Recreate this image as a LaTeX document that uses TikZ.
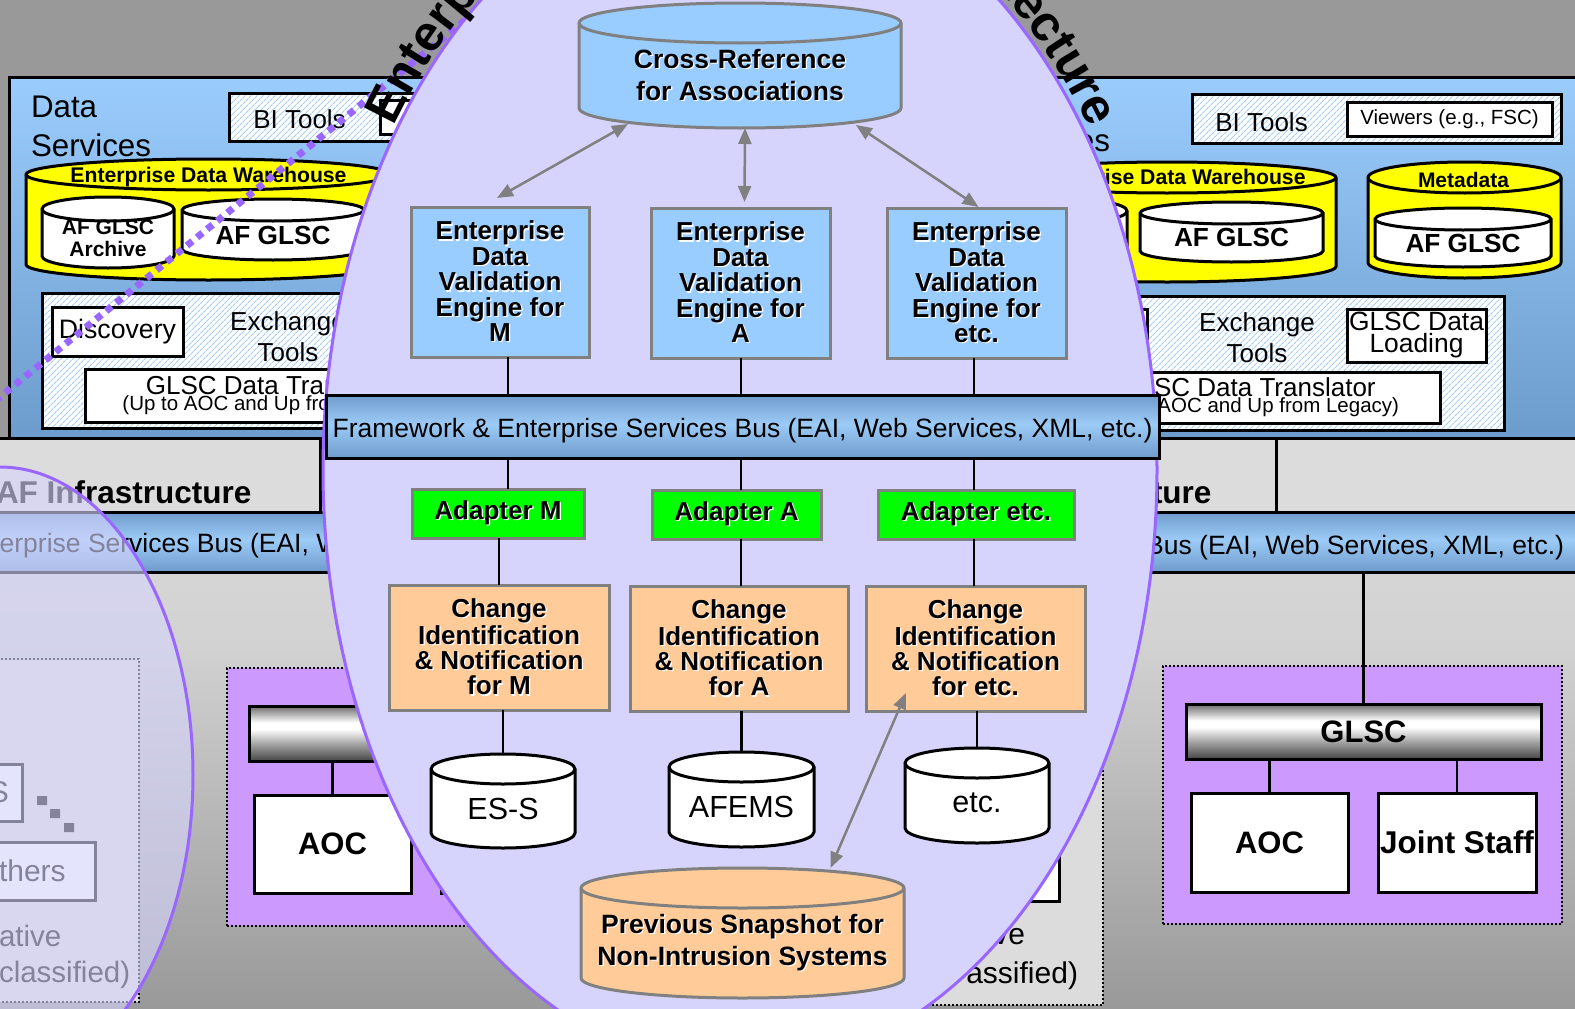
\documentclass[tikz,border=0pt]{standalone}
\usepackage{fontspec}
\setmainfont{Liberation Sans}
\usetikzlibrary{arrows.meta,patterns.meta,decorations.text,calc}
\definecolor{bgGray}{HTML}{999999}
\definecolor{bgLight}{HTML}{DCDCDC}
\definecolor{bgMid}{HTML}{D2D2D2}
\definecolor{dsTop}{HTML}{9ACCFD}
\definecolor{dsBot}{HTML}{6C9CCB}
\definecolor{hatchBlue}{HTML}{A6CEF4}
\definecolor{edwYellow}{HTML}{FFFF00}
\definecolor{lav}{HTML}{D6D4FC}
\definecolor{lensPurple}{HTML}{9966FF}
\definecolor{boxPurple}{HTML}{CC99FF}
\definecolor{boxBlue}{HTML}{99CCFF}
\definecolor{adGreen}{HTML}{00FF00}
\definecolor{chOrange}{HTML}{FFCC99}
\definecolor{lineGray}{HTML}{808080}
\definecolor{esbA}{HTML}{6E9BCB}
\definecolor{esbB}{HTML}{9DCBF7}
\definecolor{mTop}{HTML}{6A6A6A}
\definecolor{mMid}{HTML}{A0A0A0}
\definecolor{mBot}{HTML}{454545}
\pgfdeclareverticalshading{esbshade}{100bp}{color(0bp)=(esbA); color(25bp)=(esbA); color(52bp)=(esbB); color(75bp)=(esbA); color(100bp)=(esbA)}
\pgfdeclareverticalshading{metalshade}{100bp}{color(0bp)=(mBot); color(25bp)=(mBot); color(40bp)=(mMid); color(54bp)=(white); color(60bp)=(white); color(75bp)=(mTop); color(100bp)=(mTop)}
\pgfdeclareverticalshading{bgshade}{100bp}{color(0bp)=(bgGray); color(25bp)=(bgGray); color(57bp)=(bgMid); color(75bp)=(bgLight); color(100bp)=(bgLight)}
\newcommand\fs[2]{\fontsize{#1}{#2}\selectfont}
\newcommand\sh[1]{\leavevmode\rlap{\hspace{1.3pt}\raisebox{-1.3pt}{\textcolor{white}{#1}}}#1}
\newcommand\bx[7]{\node[#1, minimum width={((#4)-(#2))*1pt}, minimum height={((#5)-(#3))*1pt}] (#6) at ({((#2)+(#4))/2},{((#3)+(#5))/2}) {#7};}
\newcommand\drum[9]{%
  \path[#7] (#2,#4+#6) -- (#2,#5-#6) arc[start angle=180,end angle=0,x radius={((#3)-(#2))/2},y radius=#6] -- (#3,#4+#6) arc[start angle=0,end angle=-180,x radius={((#3)-(#2))/2},y radius=#6] -- cycle;
  \path[#7,fill=none] (#2,#4+#6) arc[start angle=180,end angle=0,x radius={((#3)-(#2))/2},y radius=#6];
  \node[align=center, font=#8, minimum width={((#3)-(#2))*1pt}, minimum height={((#5)-(#4)-(#6))*1pt}] (#1) at ({((#2)+(#3))/2},{((#4)+(#6)+(#5))/2}) {#9};}
\tikzset{
  every node/.style={inner sep=0pt, outer sep=0pt},
  wbox/.style={draw=black, line width=3pt, fill=white, align=center},
  hbox/.style={draw=black, line width=3pt, preaction={fill=white}, pattern={Lines[angle=45,distance=4pt,line width=1.2pt]}, pattern color=hatchBlue},
  dsband/.style={draw=black, line width=3pt, top color=dsTop, bottom color=dsBot},
  infra/.style={draw=black, line width=3pt, fill=bgLight},
  esbbar/.style={draw=black, line width=3pt, shade, shading=esbshade},
  metalbar/.style={draw=black, line width=3pt, shade, shading=metalshade, align=center},
  pbox/.style={draw=black, line width=2pt, dotted, fill=boxPurple},
  gbox/.style={draw=black, line width=2pt, dotted, fill=bgLight},
  yel/.style={draw=black, line width=3pt, fill=edwYellow},
  wdrum/.style={draw=black, line width=3pt, fill=white},
  bdrum/.style={draw=lineGray, line width=3pt, fill=boxBlue},
  odrum/.style={draw=lineGray, line width=3pt, fill=chOrange},
  cbox/.style={draw=lineGray, line width=3pt, align=center},
  edvbox/.style={cbox, fill=boxBlue, font=\fs{26}{25.4}\bfseries},
  adbox/.style={cbox, fill=adGreen, font=\fs{26}{26}\bfseries},
  chbox/.style={cbox, fill=chOrange, font=\fs{26}{25.3}\bfseries},
  link/.style={draw=black, line width=2.5pt},
  garrow/.style={draw=lineGray, line width=2.5pt, {Triangle[length=16pt,width=13pt]}-{Triangle[length=16pt,width=13pt]}},
  dotline/.style={draw=lensPurple, line width=7pt, dash pattern=on 7pt off 6pt},
  arctext/.style={decorate, decoration={text along path, text={|\fs{50}{50}\bfseries|#1}}},
}
\begin{document}
\begin{tikzpicture}[x=1pt,y=-1pt]
\useasboundingbox (0,0) rectangle (1575,1009);
\clip (0,0) rectangle (1575,1009);
\fill[bgGray] (0,0) rectangle (1575,1009);
\shade[shading=bgshade] (0,437) rectangle (1575,1009);

% ---------- Data Services band
\bx{dsband}{9}{77}{1600}{438}{dsbox}{}
% left
\node[anchor=west, align=left, font=\fs{31.3}{39}] (dsTxtL) at (31,126.5) {Data\\Services};
\bx{hbox}{229}{93}{720}{141}{biL}{}
\bx{wbox}{380}{100}{600}{134}{viewL}{}
\node[font=\fs{26}{30}] (biTxtL) at (299.5,119.5) {BI Tools};
\drum{edwL}{26}{391}{159}{280}{15.5}{yel}{\fs{20}{20}}{}
\node[font=\fs{21.2}{24}\bfseries] (edwTxtL) at (208.5,177.5) {Enterprise Data Warehouse};
\drum{archL}{42}{174}{197}{268}{12}{wdrum}{\fs{21}{22}\bfseries}{AF GLSC\\Archive}
\drum{glscL}{182}{364}{199}{260}{11}{wdrum}{\fs{26.2}{28}\bfseries}{AF GLSC}
\bx{hbox}{42}{293}{720}{428}{exL}{}
\bx{wbox,font=\fs{26.7}{30}}{52}{307}{183}{356}{discL}{Discovery}
\node[align=center, font=\fs{26}{31}] (extL) at (288,337) {Exchange\\Tools};
\bx{wbox}{85}{369}{463}{422}{trL}{\fs{26}{22}GLSC Data Translator\\\fs{20.5}{22}(Up to AOC and Up from Legacy)}
% right
\node[anchor=west, align=left, font=\fs{31.3}{39}] (dsTxtR) at (990,121.5) {Data\\Services};
\bx{hbox}{1192}{94}{1561}{143}{biR}{}
\bx{wbox,font=\fs{20.5}{24}}{1347}{102}{1552}{136}{viewR}{Viewers (e.g., FSC)}
\node[font=\fs{26}{30}] (biTxtR) at (1261.5,122.5) {BI Tools};
\drum{edwR}{998}{1336}{162}{282}{15.5}{yel}{\fs{20}{20}}{}
\node[font=\fs{21.2}{24}\bfseries] (edwTxtR) at (1167.5,179.5) {Enterprise Data Warehouse};
\drum{archR}{1005}{1127}{199}{268}{12}{wdrum}{\fs{20}{20}}{}
\drum{glscR}{1140}{1323}{202}{262}{11}{wdrum}{\fs{26.2}{28}\bfseries}{AF GLSC}
\drum{metaR}{1368}{1561}{162}{278}{15.5}{yel}{\fs{20}{20}}{}
\node[font=\fs{21}{24}\bfseries] (metaTxt) at (1463.5,179.5) {Metadata};
\drum{glscM}{1375}{1551}{208}{267}{11}{wdrum}{\fs{26.2}{28}\bfseries}{AF GLSC}
\bx{hbox}{1000}{296}{1504}{430}{exR}{}
\bx{wbox}{1010}{309}{1147}{357}{discR}{}
\node[align=center, font=\fs{26}{31}] (extR) at (1257,338) {Exchange\\Tools};
\bx{wbox,font=\fs{26.4}{22}}{1347}{309}{1486}{362}{loadR}{GLSC Data\\Loading}
\bx{wbox}{1055}{372}{1440}{423}{trR}{\fs{26}{22}GLSC Data Translator\\\fs{20.5}{22}(Up to AOC and Up from Legacy)}

% ---------- Infrastructure band
\bx{infra}{-10}{438}{320}{512}{infL}{}
\node[anchor=west, font=\fs{31.5}{34}\bfseries] (infTxtL) at (-4,492.5) {AF Infrastructure};
\bx{infra}{880}{438}{1276}{512}{infR}{}
\bx{infra}{1276}{438}{1600}{512}{infR2}{}
\node[anchor=west, font=\fs{31.5}{34}\bfseries] (infTxtR) at (956,492.5) {AF Infrastructure};
\bx{esbbar}{-10}{512}{720}{572}{esbL}{}
\node[anchor=west, font=\fs{26.5}{30}] (esbTxtL) at (-205,546) {Framework \& Enterprise Services Bus (EAI, Web Services, XML, etc.)};
\bx{esbbar}{860}{512}{1600}{572}{esbR}{}
\node[anchor=east, font=\fs{26.5}{30}] (esbTxtR) at (1564,548) {Framework \& Enterprise Services Bus (EAI, Web Services, XML, etc.)};

% ---------- bottom left
\bx{gbox}{-10}{659}{139}{1002}{gboxL}{}
\bx{wbox}{-10}{764}{22}{821}{sBoxL}{}
\node[anchor=east, font=\fs{30}{34}] (sTxt) at (9,792) {S};
\fill[black] (37,796) rectangle (47,805) (50,809) rectangle (60,818) (64,823) rectangle (74,832);
\bx{wbox}{-10}{842}{95}{900}{othersL}{}
\node[anchor=west, font=\fs{30}{34}] (othTxt) at (-1,871) {thers};
\node[anchor=west, font=\fs{29.5}{34}] (ativeTxt) at (-1,936) {ative};
\node[anchor=west, font=\fs{29.5}{34}] (clTxtL) at (-1,975) {classified)};
\bx{pbox}{227}{668}{720}{926}{pboxL}{}
\bx{metalbar}{249}{706}{720}{761}{barL}{}
\bx{wbox,font=\fs{31}{34}\bfseries}{254}{795}{411}{893}{aocL}{AOC}
\bx{wbox}{441}{795}{650}{893}{boxL2}{}
\draw[link] (barL.south -| aocL.north) -- (aocL.north);

% ---------- bottom right
\bx{gbox}{700}{659}{1103}{1005}{gboxR}{}
\bx{wbox}{900}{795}{1059}{901}{boxR2}{}
\node[anchor=east, font=\fs{30}{34}] (veTxt) at (1025,937) {ve};
\node[anchor=east, font=\fs{30}{34}] (clTxtR) at (1078,976) {assified)};
\bx{pbox}{1163}{666}{1562}{924}{pboxR}{}
\bx{metalbar,font=\fs{31}{34}\bfseries}{1186}{704}{1541}{759}{glscBar}{GLSC}
\bx{wbox,font=\fs{31}{34}\bfseries}{1191}{793}{1348}{892}{aocR}{AOC}
\bx{wbox,font=\fs{31.5}{34}\bfseries}{1378}{793}{1536}{892}{jsR}{Joint Staff}
\draw[link] (esbR.south -| glscBar.north) -- (glscBar.north);
\draw[link] (glscBar.south -| aocR.north) -- (aocR.north);
\draw[link] (glscBar.south -| jsR.north) -- (jsR.north);

% ---------- dotted lens edge
\coordinate (dl1) at (-5,401);
\coordinate (dl2) at (495,-4);
\draw[dotline] (dl1) -- (dl2);

% ---------- left lens
\coordinate (lensL) at (0,775);
\fill[lav, fill opacity=0.62] (lensL) ellipse[x radius=193, y radius=308];
\draw[lensPurple, line width=3pt] (lensL) ellipse[x radius=193, y radius=308];

% ---------- central lens
\coordinate (lensC) at (740,470);
\fill[lav] (lensC) ellipse[x radius=417, y radius=600];
\draw[lensPurple, line width=3pt] (lensC) ellipse[x radius=417, y radius=600];

\drum{xref}{579}{901}{3}{128}{20}{bdrum}{\fs{26.5}{32}\bfseries}{\sh{Cross-Reference}\\\sh{for Associations}}
\bx{edvbox}{411}{207}{589}{357}{edvM}{\sh{Enterprise}\\\sh{Data}\\\sh{Validation}\\\sh{Engine for}\\\sh{M}}
\bx{edvbox}{651}{208}{830}{358}{edvA}{\sh{Enterprise}\\\sh{Data}\\\sh{Validation}\\\sh{Engine for}\\\sh{A}}
\bx{edvbox}{887}{208}{1066}{358}{edvE}{\sh{Enterprise}\\\sh{Data}\\\sh{Validation}\\\sh{Engine for}\\\sh{etc.}}
\bx{esbbar}{326}{395}{1159}{458}{esbC}{}
\node[font=\fs{26.5}{30}] (esbCTxt) at (742.5,431) {Framework \& Enterprise Services Bus (EAI, Web Services, XML, etc.)};
\bx{adbox}{412}{489}{584}{538}{adM}{\sh{Adapter M}}
\bx{adbox}{652}{490}{821}{539}{adA}{\sh{Adapter A}}
\bx{adbox}{878}{490}{1074}{539}{adE}{\sh{Adapter etc.}}
\bx{chbox}{389}{585}{609}{710}{chM}{\sh{Change}\\\sh{Identification}\\\sh{\& Notification}\\\sh{for M}}
\bx{chbox}{630}{586}{848}{711}{chA}{\sh{Change}\\\sh{Identification}\\\sh{\& Notification}\\\sh{for A}}
\bx{chbox}{866}{586}{1085}{711}{chE}{\sh{Change}\\\sh{Identification}\\\sh{\& Notification}\\\sh{for etc.}}
\drum{ess}{431}{575}{754}{848}{15}{wdrum}{\fs{30.5}{34}}{ES-S}
\drum{afems}{669}{814}{752}{847}{15}{wdrum}{\fs{30.5}{34}}{AFEMS}
\drum{etcdb}{905}{1049}{748}{843}{15}{wdrum}{\fs{30.5}{34}}{etc.}
\drum{snap}{581}{904}{868}{998}{20}{odrum}{\fs{26.5}{32}\bfseries}{\sh{Previous Snapshot for}\\\sh{Non-Intrusion Systems}}

\coordinate (cM) at (508,0);
\coordinate (cA) at (741,0);
\coordinate (cE) at (974,0);
\draw[link] (edvM.south -| cM) -- (esbC.north -| cM);
\draw[link] (edvA.south -| cA) -- (esbC.north -| cA);
\draw[link] (edvE.south -| cE) -- (esbC.north -| cE);
\draw[link] (esbC.south -| cM) -- (adM.north -| cM);
\draw[link] (esbC.south -| cA) -- (adA.north -| cA);
\draw[link] (esbC.south -| cE) -- (adE.north -| cE);
\draw[link] (adM.south -| chM.north) -- (chM.north);
\draw[link] (adA.south -| cA) -- (chA.north -| cA);
\draw[link] (adE.south -| cE) -- (chE.north -| cE);
\draw[link] (chM.south -| ess.north) -- ($(ess.north)+(0,-15)$);
\draw[link] (chA.south -| afems.north) -- ($(afems.north)+(0,-15)$);
\draw[link] (chE.south -| etcdb.north) -- ($(etcdb.north)+(0,-15)$);

\draw[garrow] ($(xref.south west)!0.152!(xref.south east)+(0,-4)$) -- ($(edvM.north)+(-3,-9)$);
\draw[garrow] ($(xref.south)+(5,0)$) -- ($(edvA.north)+(4,-6)$);
\draw[garrow] ($(xref.south west)!0.86!(xref.south east)+(0,-3)$) -- ($(edvE.north)+(2,-1)$);
\draw[garrow] ($(chE.south west)+(40,-18)$) -- ($(snap.north)+(88,-20)$);

% ---------- arc titles
\path[arctext={Enterprise}] ($(lensC)+(214.6:421 and 604)$) arc[start angle=214.6, end angle=285, x radius=421, y radius=604];
\path[arctext={Architecture}, decoration={text align=right}] ($(lensC)+(262:423 and 606)$) arc[start angle=262, end angle=325.7, x radius=423, y radius=606];
\end{tikzpicture}
\end{document}
